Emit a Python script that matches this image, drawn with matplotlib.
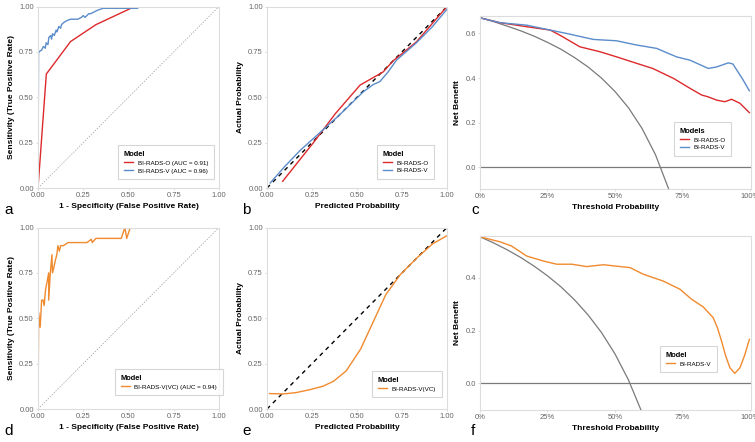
import matplotlib
matplotlib.use('Agg')
import matplotlib.pyplot as plt
from matplotlib.ticker import FixedLocator

plt.rcParams['font.family'] = ['Liberation Sans', 'DejaVu Sans']

# colores
RED = '#DC2A2C'
BLUE = '#5B8CCB'
ORANGE = '#F08A2E'
GREY = '#7A7A7A'

# --- a: ROC BI-RADS-O / BI-RADS-V ---
roc_o_fpr = [0.0, 0.046, 0.18, 0.32, 0.526, 0.56, 0.64]
roc_o_tpr = [0.0, 0.628, 0.807, 0.90, 0.996, 1.0, 1.0]
roc_v_fpr = [0.0, 0.003, 0.005, 0.012, 0.02, 0.03, 0.04, 0.045, 0.055, 0.06, 0.07, 0.075,
             0.08, 0.09, 0.10, 0.105, 0.115, 0.125, 0.13, 0.14, 0.155, 0.18, 0.22, 0.24,
             0.25, 0.26, 0.28, 0.29, 0.31, 0.33, 0.36, 0.45, 0.55, 0.56, 0.62, 0.64]
roc_v_tpr = [0.0, 0.74, 0.75, 0.755, 0.76, 0.78, 0.77, 0.80, 0.79, 0.83, 0.84, 0.82,
             0.85, 0.84, 0.87, 0.86, 0.89, 0.88, 0.90, 0.91, 0.92, 0.93, 0.93, 0.94,
             0.95, 0.94, 0.96, 0.96, 0.97, 0.98, 0.99, 0.99, 0.99, 1.0, 1.0, 1.0]

# --- b: calibracion ---
cal_o_pred = [0.087, 0.258, 0.38, 0.517, 0.646, 0.70, 0.83, 1.0]
cal_o_act = [0.037, 0.25, 0.41, 0.567, 0.64, 0.70, 0.805, 1.0]
cal_v_pred = [0.018, 0.10, 0.185, 0.258, 0.40, 0.535, 0.59, 0.627, 0.673, 0.72, 0.83, 0.92, 1.0]
cal_v_act = [0.028, 0.12, 0.208, 0.273, 0.40, 0.53, 0.57, 0.586, 0.64, 0.705, 0.80, 0.89, 0.985]

# --- c: curva de decision ---
dca_t = [0.0, 0.05, 0.10, 0.15, 0.20, 0.25, 0.30, 0.35, 0.40, 0.45, 0.50, 0.55, 0.60, 0.65, 0.70]
dca_all = [0.67, 0.653, 0.633, 0.612, 0.588, 0.56, 0.529, 0.492, 0.45, 0.40, 0.34, 0.267, 0.175, 0.057, -0.10]
dca_o_t = [0.0, 0.074, 0.173, 0.26, 0.296, 0.37, 0.444, 0.506, 0.58, 0.64, 0.716, 0.778,
           0.821, 0.845, 0.877, 0.907, 0.932, 0.963, 0.998]
dca_o_nb = [0.67, 0.648, 0.63, 0.615, 0.592, 0.54, 0.518, 0.495, 0.466, 0.443, 0.399, 0.354,
            0.324, 0.316, 0.301, 0.294, 0.305, 0.287, 0.245]
dca_v_t = [0.0, 0.074, 0.173, 0.26, 0.32, 0.42, 0.506, 0.58, 0.654, 0.728, 0.778, 0.846,
           0.877, 0.92, 0.937, 0.975, 0.998]
dca_v_nb = [0.67, 0.648, 0.637, 0.615, 0.60, 0.573, 0.567, 0.548, 0.533, 0.495, 0.48, 0.443,
            0.45, 0.468, 0.463, 0.391, 0.343]

# --- d: ROC BI-RADS-V(VC) ---
roc_vc_fpr = [0.0, 0.004, 0.012, 0.02, 0.028, 0.034, 0.042, 0.05, 0.059, 0.059, 0.068, 0.077,
              0.08, 0.088, 0.096, 0.104, 0.11, 0.118, 0.125, 0.14, 0.166, 0.27, 0.295, 0.30,
              0.32, 0.46, 0.48, 0.49, 0.51, 1.0]
roc_vc_tpr = [0.0, 0.53, 0.45, 0.60, 0.60, 0.57, 0.66, 0.70, 0.75, 0.60, 0.75, 0.85,
              0.75, 0.78, 0.82, 0.85, 0.90, 0.87, 0.90, 0.90, 0.917, 0.917, 0.935, 0.917,
              0.94, 0.94, 1.0, 0.94, 1.0, 1.0]

# --- e: calibracion VC ---
cal_vc_pred = [0.015, 0.09, 0.16, 0.24, 0.31, 0.37, 0.44, 0.52, 0.59, 0.66, 0.74, 0.83, 0.92, 1.0]
cal_vc_act = [0.085, 0.083, 0.09, 0.107, 0.125, 0.153, 0.21, 0.33, 0.48, 0.63, 0.74, 0.83, 0.91, 0.955]

# --- f: curva de decision VC ---
dca2_t = [0.0, 0.05, 0.10, 0.15, 0.20, 0.25, 0.30, 0.35, 0.40, 0.45, 0.50, 0.55, 0.60]
dca2_all = [0.556, 0.533, 0.507, 0.478, 0.445, 0.408, 0.366, 0.317, 0.26, 0.193, 0.112, 0.013, -0.11]
dca2_vc_t = [0.0, 0.074, 0.117, 0.173, 0.235, 0.284, 0.34, 0.395, 0.457, 0.556, 0.605, 0.679,
             0.741, 0.784, 0.827, 0.864, 0.88, 0.895, 0.91, 0.926, 0.944, 0.963, 0.98, 0.998]
dca2_vc_nb = [0.556, 0.537, 0.521, 0.483, 0.464, 0.452, 0.452, 0.443, 0.45, 0.439, 0.414, 0.388,
              0.357, 0.319, 0.29, 0.249, 0.21, 0.16, 0.105, 0.059, 0.038, 0.059, 0.105, 0.167]

fig = plt.figure(figsize=(7.55, 4.42), dpi=100)
W, H = 755.0, 442.0


def box(l, t, r, b):
    return [l / W, 1 - b / H, (r - l) / W, (b - t) / H]


def estilo(ax):
    for s in ax.spines.values():
        s.set_color('#DDDDDD')
        s.set_linewidth(0.8)
    ax.tick_params(labelsize=5.5, colors='#CCCCCC', labelcolor='#666666', length=1.5, width=0.5, pad=1.5)


def leyenda(ax, titulo, x, y):
    leg = ax.legend(title=titulo, loc='upper left', bbox_to_anchor=(x / W, 1 - y / H),
                    bbox_transform=fig.transFigure, fontsize=4.5, title_fontsize=5.4,
                    frameon=True, fancybox=False, handlelength=1.5, borderpad=0.9,
                    labelspacing=0.4, handletextpad=0.7, alignment='left')
    leg.get_title().set_fontweight('bold')
    leg.get_frame().set_edgecolor('#CCCCCC')
    leg.get_frame().set_linewidth(0.8)


def roc_axes(ax):
    ax.plot([0, 1], [0, 1], ls=(0, (2, 2)), color='#999999', lw=0.5)
    ax.set_xlim(0, 1)
    ax.set_ylim(0, 1)
    ticks = [0, 0.25, 0.5, 0.75, 1.0]
    ax.set_xticks(ticks)
    ax.set_yticks(ticks)
    ax.set_xticklabels(['0.00', '0.25', '0.50', '0.75', '1.00'])
    ax.set_yticklabels(['0.00', '0.25', '0.50', '0.75', '1.00'])
    ax.set_xlabel('1 - Specificity (False Positive Rate)', fontsize=6, fontweight='bold', labelpad=3)
    ax.set_ylabel('Sensitivity (True Positive Rate)', fontsize=6, fontweight='bold', labelpad=3)
    estilo(ax)


def cal_axes(ax):
    ax.set_xlim(0, 1)
    ax.set_ylim(0, 1)
    ticks = [0, 0.25, 0.5, 0.75, 1.0]
    ax.set_xticks(ticks)
    ax.set_yticks(ticks)
    ax.set_xticklabels(['0.00', '0.25', '0.50', '0.75', '1.00'])
    ax.set_yticklabels(['0.00', '0.25', '0.50', '0.75', '1.00'])
    ax.set_xlabel('Predicted Probability', fontsize=6, fontweight='bold', labelpad=3)
    ax.set_ylabel('Actual Probability', fontsize=6, fontweight='bold', labelpad=3)
    estilo(ax)


def dca_axes(ax, ylim, yt):
    ax.axhline(0, color=GREY, lw=0.9)
    ax.set_xlim(0, 1.004)
    ax.set_ylim(*ylim)
    ax.set_xticks([0, 0.25, 0.5, 0.75, 1.0])
    ax.set_xticklabels(['0%', '25%', '50%', '75%', '100%'])
    ax.yaxis.set_major_locator(FixedLocator(yt))
    ax.set_yticklabels(['%.1f' % v for v in yt])
    ax.set_xlabel('Threshold Probability', fontsize=6, fontweight='bold', labelpad=3)
    ax.set_ylabel('Net Benefit', fontsize=6, fontweight='bold', labelpad=3)
    estilo(ax)


# a
ax = fig.add_axes(box(38, 6.5, 219, 188))
roc_axes(ax)
ax.plot(roc_o_fpr, roc_o_tpr, color=RED, lw=1.0, label='BI-RADS-O (AUC = 0.91)')
ax.plot(roc_v_fpr, roc_v_tpr, color=BLUE, lw=1.0, label='BI-RADS-V (AUC = 0.96)')
leyenda(ax, 'Model', 115, 142)

# b
ax = fig.add_axes(box(267, 6.5, 447, 188))
cal_axes(ax)
ax.plot([0, 1], [0, 1], ls=(0, (3, 3)), color='black', lw=1.0)
ax.plot(cal_o_pred, cal_o_act, color=RED, lw=1.0, label='BI-RADS-O')
ax.plot(cal_v_pred, cal_v_act, color=BLUE, lw=1.0, label='BI-RADS-V')
leyenda(ax, 'Model', 374, 142)

# c
ax = fig.add_axes(box(480, 16, 751, 189))
dca_axes(ax, (-0.097, 0.678), [0.0, 0.2, 0.4, 0.6])
ax.plot(dca_t, dca_all, color=GREY, lw=0.9)
ax.plot(dca_o_t, dca_o_nb, color=RED, lw=1.0, label='BI-RADS-O')
ax.plot(dca_v_t, dca_v_nb, color=BLUE, lw=1.0, label='BI-RADS-V')
leyenda(ax, 'Models', 671, 119)

# d
ax = fig.add_axes(box(38, 227.5, 219, 409))
roc_axes(ax)
ax.plot(roc_vc_fpr, roc_vc_tpr, color=ORANGE, lw=1.0, label='BI-RADS-V(VC) (AUC = 0.94)')
leyenda(ax, 'Model', 112, 366)

# e
ax = fig.add_axes(box(267, 227.5, 447, 409))
cal_axes(ax)
ax.plot([0, 1], [0, 1], ls=(0, (3, 3)), color='black', lw=1.0)
ax.plot(cal_vc_pred, cal_vc_act, color=ORANGE, lw=1.0, label='BI-RADS-V(VC)')
leyenda(ax, 'Model', 369, 368)

# f
ax = fig.add_axes(box(480, 236, 751, 410))
dca_axes(ax, (-0.101, 0.559), [0.0, 0.2, 0.4])
ax.plot(dca2_t, dca2_all, color=GREY, lw=0.9)
ax.plot(dca2_vc_t, dca2_vc_nb, color=ORANGE, lw=1.0, label='BI-RADS-V')
leyenda(ax, 'Model', 657, 343)

# letras de panel
for letra, x, y in [('a', 4, 214), ('b', 242, 214), ('c', 471, 214),
                    ('d', 4, 435), ('e', 242, 435), ('f', 471, 435)]:
    fig.text(x / W, 1 - y / H, letra, fontsize=11, ha='left', va='baseline')

fig.savefig('out.png', dpi=100)
